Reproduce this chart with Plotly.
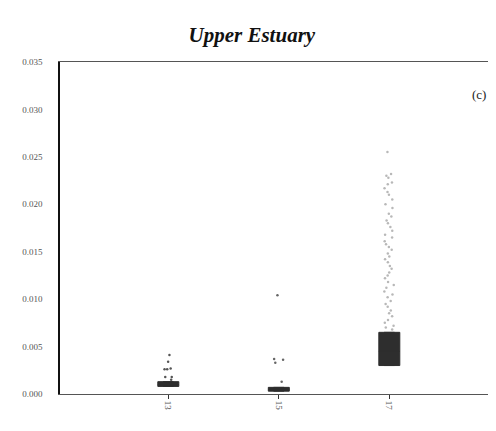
import plotly.graph_objects as go

categories = ["13", "15", "17"]
q1_vals = [0.0008, 0.0003, 0.0030]
median_vals = [0.0010, 0.0005, 0.0045]
q3_vals = [0.0013, 0.0007, 0.0065]

outliers_13 = [0.0041, 0.0034, 0.0026, 0.0026, 0.0027, 0.0018, 0.0018, 0.0015]
outliers_15 = [0.0104, 0.0037, 0.0036, 0.0033, 0.0013]
outliers_17 = [0.0255, 0.0232, 0.0230, 0.0228, 0.0223, 0.0221, 0.0217, 0.0213,
               0.0210, 0.0205, 0.0200, 0.0196, 0.0190, 0.0187, 0.0183, 0.0180,
               0.0176, 0.0172, 0.0168, 0.0165, 0.0161, 0.0158, 0.0155, 0.0152,
               0.0148, 0.0145, 0.0142, 0.0139, 0.0135, 0.0132, 0.0128, 0.0125,
               0.0122, 0.0118, 0.0115, 0.0112, 0.0108, 0.0105, 0.0102, 0.0098,
               0.0095, 0.0092, 0.0088, 0.0085, 0.0082, 0.0078, 0.0075, 0.0072,
               0.0070, 0.0068]
outliers = [outliers_13, outliers_15, outliers_17]
point_colors = ["#555555", "#666666", "#b8b8b8"]

yticks = [0.000, 0.005, 0.010, 0.015, 0.020, 0.025, 0.030, 0.035]

fig = go.Figure()

fig.add_trace(go.Box(
    x=categories, q1=q1_vals, median=median_vals, q3=q3_vals,
    lowerfence=q1_vals, upperfence=q3_vals,
    fillcolor="#2e2e2e", line=dict(color="#2e2e2e", width=1),
    width=0.19, boxpoints=False, showlegend=False, hoverinfo="skip",
))

for cat, pts, col in zip(categories, outliers, point_colors):
    fig.add_trace(go.Box(
        x=[cat] * len(pts), y=pts,
        boxpoints="all", jitter=0.5, pointpos=0, width=0.2,
        fillcolor="rgba(0,0,0,0)", line=dict(width=0, color="rgba(0,0,0,0)"),
        marker=dict(color=col, size=2.5),
        showlegend=False,
    ))

fig.update_layout(
    width=480, height=415,
    margin=dict(l=52, r=0, t=54, b=29),
    paper_bgcolor="white", plot_bgcolor="white",
    boxmode="overlay",
    title=dict(
        text="<b><i>Upper Estuary</i></b>",
        font=dict(family="Liberation Serif", size=21, color="#111111"),
        x=0.508, xanchor="center", xref="container",
        y=0.935, yanchor="middle", yref="container",
    ),
    xaxis=dict(
        type="category", range=[-0.98, 2.893],
        showline=True, linecolor="#555555", linewidth=1, mirror=True,
        ticks="outside", ticklen=4, tickcolor="#333333",
        tickangle=90, showgrid=False, zeroline=False,
        tickfont=dict(family="Liberation Serif", size=9, color="#555555"),
    ),
    yaxis=dict(
        range=[0, 0.035], tickvals=yticks, tickformat=".3f",
        showline=True, linecolor="#111111", linewidth=1.5,
        showgrid=False, zeroline=False, ticks="",
        ticklabelstandoff=14,
        tickfont=dict(family="Liberation Serif", size=9, color="#555555"),
    ),
)

fig.add_annotation(
    text="(c)", xref="paper", yref="paper", x=1.0, y=0.93,
    xanchor="right", showarrow=False,
    font=dict(family="Liberation Serif", size=13, color="#222222"),
)

fig.write_html("out.html")
